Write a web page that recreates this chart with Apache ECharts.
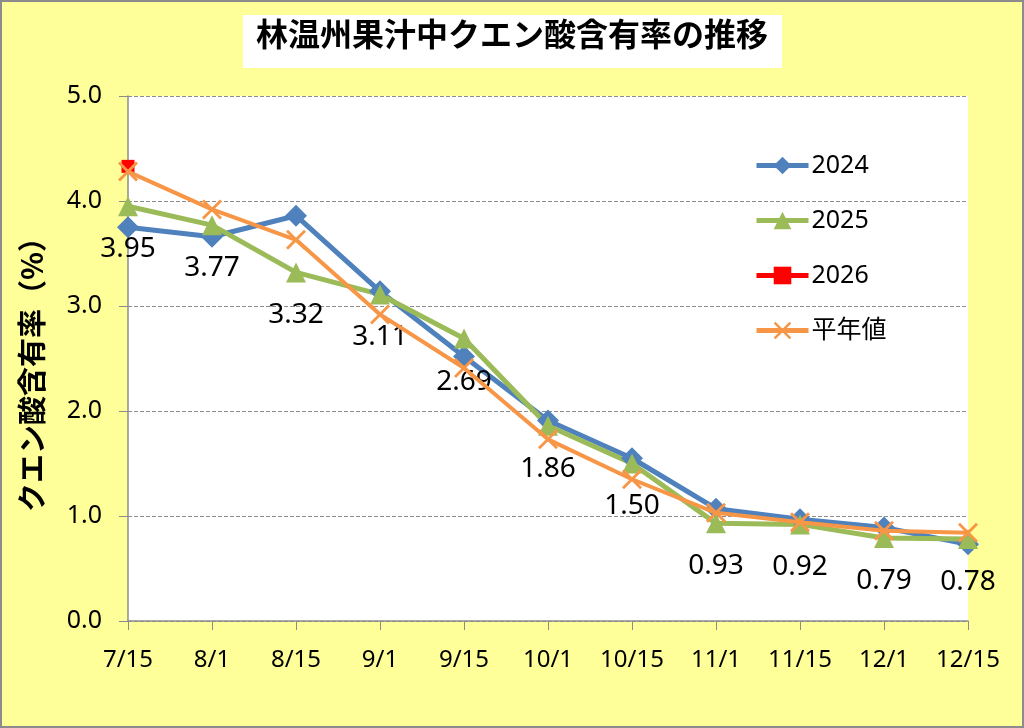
<!DOCTYPE html>
<html>
<head>
<meta charset="utf-8">
<script src="https://cdn.jsdelivr.net/npm/echarts@6/dist/echarts.min.js"></script>
<style>
  html, body { margin: 0; padding: 0; background: #ffff99; }
  #chart { width: 1024px; height: 728px; box-sizing: border-box; border: 2px solid #8c8c8c; }
</style>
</head>
<body>
<div id="chart"></div>
<script>
// 時期
const dates = ['7/15', '8/1', '8/15', '9/1', '9/15', '10/1', '10/15', '11/1', '11/15', '12/1', '12/15']
// クエン酸含有率 (%)
const y2024 = [3.75, 3.66, 3.86, 3.14, 2.52, 1.91, 1.55, 1.07, 0.97, 0.89, 0.73]
const y2025 = [3.95, 3.77, 3.32, 3.11, 2.69, 1.86, 1.50, 0.93, 0.92, 0.79, 0.78]
const y2026 = [4.33, null, null, null, null, null, null, null, null, null, null]
const normal = [4.28, 3.92, 3.63, 2.92, 2.41, 1.73, 1.35, 1.03, 0.94, 0.86, 0.84]

const font = '"Noto Sans", "Noto Sans CJK JP", sans-serif'
const crossPath = 'path://M0,1L1,0L10,9L9,10ZM9,0L10,1L1,10L0,9Z'

const chart = echarts.init(document.getElementById('chart'))
chart.setOption({
  backgroundColor: '#ffff99',
  animation: false,
  graphic: [
    {
      type: 'rect',
      left: 241, top: 13,
      shape: { width: 539, height: 53 },
      style: { fill: '#ffffff' }
    },
    {
      type: 'text',
      left: 'center', top: 16,
      style: {
        text: '林温州果汁中クエン酸含有率の推移',
        font: 'bold 32px "Noto Sans CJK JP", sans-serif',
        fill: '#000'
      }
    }
  ],
  grid: { left: 126, right: 54, top: 94, bottom: 105, backgroundColor: '#fff', show: true, borderWidth: 0 },
  legend: {
    orient: 'vertical',
    left: 747, top: 146,
    itemGap: 30,
    itemWidth: 52,
    itemHeight: 22,
    lineStyle: { width: 5 },
    textStyle: { fontSize: 25, fontFamily: font, color: '#000', padding: [0, 0, 0, -2] },
    data: ['2024', '2025', '2026', '平年値']
  },
  xAxis: {
    type: 'category',
    data: dates,
    boundaryGap: false,
    axisLine: { lineStyle: { color: '#8c8c8c', width: 1.5 } },
    axisTick: { show: true, length: 9, lineStyle: { color: '#8c8c8c' } },
    axisLabel: { fontSize: 24, fontFamily: font, color: '#000', margin: 27 }
  },
  yAxis: {
    type: 'value',
    min: 0, max: 5, interval: 1,
    name: 'クエン酸含有率（%）',
    nameLocation: 'middle',
    nameGap: 82,
    nameTextStyle: {
      fontSize: 29, fontWeight: 'bold', color: '#000',
      fontFamily: '"Noto Sans CJK JP", sans-serif',
      padding: [0, 18, 0, 0]
    },
    axisLine: { show: true, lineStyle: { color: '#8c8c8c', width: 1.5 } },
    axisTick: { show: true, length: 9, lineStyle: { color: '#8c8c8c' } },
    axisLabel: { fontSize: 25, fontFamily: font, color: '#000', margin: 26, formatter: v => v.toFixed(1) },
    splitLine: { lineStyle: { color: '#8c8c8c', type: 'dashed', width: 1 } }
  },
  series: [
    {
      name: '2024', type: 'line', data: y2024,
      symbol: 'diamond', symbolSize: 22,
      itemStyle: { color: '#4f81bd' },
      lineStyle: { width: 5, color: '#4f81bd' }
    },
    {
      name: '2025', type: 'line', data: y2025,
      symbol: 'triangle', symbolSize: 20,
      itemStyle: { color: '#9bbb59' },
      lineStyle: { width: 5, color: '#9bbb59' },
      label: {
        show: true, position: 'bottom', distance: 19,
        fontSize: 28, fontFamily: font, color: '#000',
        formatter: p => p.value.toFixed(2)
      },
      z: 3
    },
    {
      name: '2026', type: 'line', data: y2026,
      symbol: 'rect', symbolSize: 13,
      itemStyle: { color: '#ff0000' },
      lineStyle: { width: 5, color: '#ff0000' },
      z: 4
    },
    {
      name: '平年値', type: 'line', data: normal,
      symbol: crossPath, symbolSize: 20,
      itemStyle: { color: '#f79646' },
      lineStyle: { width: 4, color: '#f79646' },
      z: 5
    }
  ]
})
</script>
</body>
</html>
